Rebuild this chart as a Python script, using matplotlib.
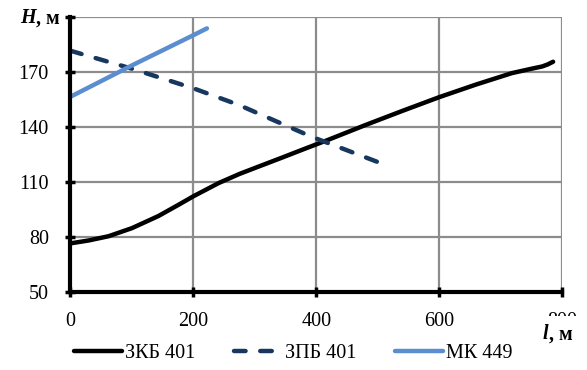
import matplotlib
matplotlib.use("Agg")
import matplotlib.pyplot as plt
from matplotlib.patches import Rectangle

plt.rcParams["font.family"] = ["Liberation Serif", "DejaVu Serif"]

# ЗКБ 401
zkb_l = [0, 30, 62, 100, 143, 175, 200, 241, 275, 306, 345, 381, 420, 480, 540, 600, 660, 718, 750, 767, 776, 785]
zkb_h = [76.7, 78.3, 80.6, 85, 91.6, 97.6, 102.4, 109.6, 114.6, 118.6, 123.6, 128.3, 133.3, 141.3, 149, 156.5, 163.4, 169.6, 172, 173.2, 174.3, 175.8]
# ЗПБ 401
zpb_l = [0, 100, 200, 274, 392, 502]
zpb_h = [181.8, 172, 161.3, 152.2, 134.9, 120.8]
# МК 449
mk_l = [0, 100, 200, 222]
mk_h = [156.7, 173.8, 190.3, 194]

x_ticks = [0, 200, 400, 600, 800]
y_ticks = [50, 80, 110, 140, 170, 200]

fig = plt.figure(figsize=(5.87, 3.70), dpi=100)
ax = fig.add_axes([0.120, 0.210, 0.838, 0.743])

ax.plot(zkb_l, zkb_h, color="black", lw=3.2, label="ЗКБ 401",
        solid_capstyle="round", solid_joinstyle="round")
ax.plot(zpb_l, zpb_h, color="#17375E", lw=3.2, ls=(0, (2.6, 3.3)), label="ЗПБ 401",
        dash_capstyle="round")
ax.plot(mk_l, mk_h, color="#5B8ED0", lw=3.2, label="МК 449", solid_capstyle="round")

ax.set_xlim(0, 800)
ax.set_ylim(50, 200)
ax.set_xticks(x_ticks)
ax.set_yticks(y_ticks)
ax.set_yticklabels([str(v) for v in y_ticks[:-1]] + [""])
ax.grid(True, color="#8c8c8c", lw=1.6)
ax.set_axisbelow(True)

for side in ("top", "right"):
    ax.spines[side].set_visible(False)
for side in ("left", "bottom"):
    ax.spines[side].set_linewidth(3)
ax.tick_params(direction="inout", length=7, width=2.5, labelsize=14.5)
ax.tick_params(axis="x", pad=11)
ax.tick_params(axis="y", pad=12)

# axis titles
fig.text(0.034, 0.951, "H", fontsize=14.5, fontweight="bold", style="italic", va="center")
fig.text(0.062, 0.951, ", м", fontsize=14.5, fontweight="bold", va="center")

# the "l, м" title sits over the lower half of the 800 label
ax.add_patch(Rectangle((0.9, 0.0), 0.1, 0.145, transform=fig.transFigure,
                       facecolor="white", edgecolor="none", clip_on=False, zorder=4))
ax.text(0.925, 0.096, "l", transform=fig.transFigure, fontsize=14.5, fontweight="bold",
        style="italic", va="center", zorder=5)
ax.text(0.936, 0.096, ", м", transform=fig.transFigure, fontsize=14.5, fontweight="bold",
        va="center", zorder=5)

fig.legend(loc="lower center", bbox_to_anchor=(0.5, -0.03), ncol=3, frameon=False,
           fontsize=14.5, handlelength=2.4, handletextpad=0.15, columnspacing=1.9)

fig.savefig("out.png", dpi=100)
